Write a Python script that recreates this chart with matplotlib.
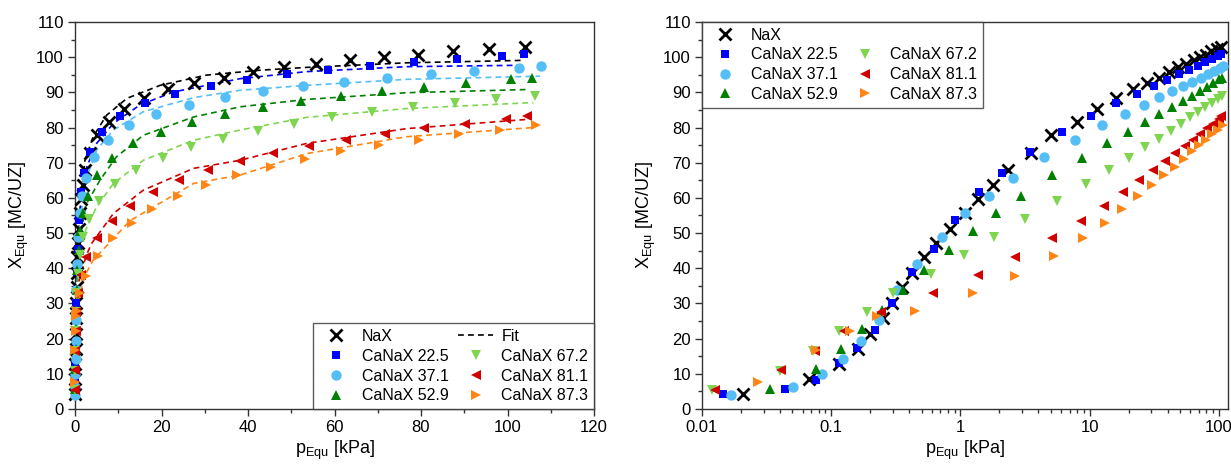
import matplotlib
matplotlib.use('Agg')
import matplotlib.pyplot as plt
from matplotlib.lines import Line2D
from matplotlib.ticker import MultipleLocator, LogLocator, NullFormatter, FixedLocator, FixedFormatter

plt.rcParams['font.family'] = ['Liberation Sans', 'DejaVu Sans']
plt.rcParams['mathtext.fontset'] = 'custom'
plt.rcParams['mathtext.rm'] = 'Liberation Sans'
plt.rcParams['mathtext.it'] = 'Liberation Sans'

# measured isotherms: pressure [kPa] and loading [MC/UZ]
p_nax = [0.0207, 0.0675, 0.115, 0.16, 0.201, 0.25, 0.297, 0.351, 0.425, 0.521, 0.644, 0.836, 1.08,
         1.36, 1.79, 2.34, 3.5, 5.0, 7.9, 11.4, 16.0, 21.5, 27.6, 34.4, 41.1, 48.4, 55.8, 63.5,
         71.4, 79.3, 87.4, 95.7, 104.0]
x_nax = [4.3, 8.5, 12.8, 17.1, 21.3, 25.9, 30.0, 34.6, 38.7, 43.1, 47.1, 51.3, 55.7,
         59.6, 63.8, 68.0, 72.8, 77.8, 81.7, 85.4, 88.3, 90.9, 92.6, 94.2, 95.8, 97.1, 98.1, 99.1,
         100.0, 100.7, 101.7, 102.3, 102.9]

p_225 = [0.0145, 0.044, 0.0757, 0.115, 0.159, 0.217, 0.297, 0.425, 0.623, 0.914, 1.38, 2.10, 3.45,
         6.15, 10.3, 16.1, 23.1, 31.4, 39.7, 49.1, 58.5, 68.3, 78.3, 88.4, 98.7, 103.9]
x_225 = [4.2, 5.6, 8.3, 13.1, 17.3, 22.4, 30.1, 38.8, 45.5, 53.8, 61.6, 67.0, 73.0,
         78.6, 83.2, 86.9, 89.5, 91.8, 93.5, 95.1, 96.4, 97.5, 98.6, 99.5, 100.2, 100.8]

p_371 = [0.0169, 0.0507, 0.0845, 0.124, 0.171, 0.236, 0.32, 0.46, 0.718, 1.08, 1.66, 2.57, 4.4,
         7.7, 12.5, 18.8, 26.4, 34.6, 43.4, 52.7, 62.3, 72.1, 82.3, 92.3, 102.6, 107.7]
x_371 = [4.1, 6.2, 9.9, 14.2, 19.2, 25.2, 33.8, 41.3, 49.0, 55.8, 60.6, 65.6, 71.6,
         76.6, 80.8, 83.9, 86.5, 88.6, 90.3, 91.8, 93.0, 94.2, 95.3, 96.2, 96.9, 97.4]

p_529 = [0.0337, 0.0757, 0.119, 0.174, 0.248, 0.36, 0.525, 0.81, 1.26, 1.87, 2.95, 5.15, 8.65,
         13.5, 19.8, 27.0, 34.6, 43.4, 52.3, 61.5, 71.0, 80.7, 90.5, 100.7, 105.7]
x_529 = [5.8, 11.4, 17.0, 22.7, 28.2, 33.9, 39.6, 45.1, 50.5, 55.7, 60.6, 66.4, 71.3,
         75.5, 78.8, 81.5, 83.9, 85.9, 87.6, 89.1, 90.3, 91.4, 92.7, 93.7, 94.2]

p_672 = [0.012, 0.040, 0.0724, 0.115, 0.189, 0.30, 0.596, 1.07, 1.82, 3.14, 5.6, 9.3, 14.2,
         20.3, 26.9, 34.2, 42.2, 50.7, 59.5, 68.7, 78.1, 87.8, 97.4, 106.4]
x_672 = [5.3, 10.8, 16.5, 22.3, 27.6, 33.0, 38.5, 43.8, 49.0, 53.9, 59.2, 63.9, 68.0,
         71.4, 74.4, 76.8, 79.1, 81.1, 82.9, 84.3, 85.7, 86.9, 88.2, 89.0]

p_811 = [0.0127, 0.041, 0.0748, 0.125, 0.242, 0.615, 1.36, 2.64, 5.07, 8.5, 12.8, 18.0, 24.1,
         30.7, 38.2, 45.8, 54.1, 62.7, 71.7, 80.8, 90.1, 99.7, 104.4]
x_811 = [5.4, 11.0, 16.4, 22.3, 27.5, 33.0, 38.2, 43.1, 48.5, 53.5, 57.8, 61.7, 65.0,
         67.8, 70.4, 72.7, 74.8, 76.5, 78.2, 79.8, 81.0, 82.4, 83.2]

p_873 = [0.0273, 0.0757, 0.139, 0.224, 0.447, 1.26, 2.62, 5.3, 8.8, 13.2, 17.9, 23.7, 30.3,
         37.5, 45.3, 53.2, 61.6, 70.4, 79.5, 88.9, 98.2, 106.7]
x_873 = [7.6, 16.7, 22.3, 26.5, 27.9, 33.1, 37.9, 43.4, 48.6, 53.0, 56.9, 60.6, 63.7,
         66.4, 68.8, 71.0, 73.2, 74.9, 76.6, 78.2, 79.4, 80.6]

# fit curves
pf_nax = [0.02, 0.3, 1.0, 2.3, 4.2, 7.3, 12.0, 19.7, 30.4, 42.8, 53.6, 76.7, 103.7]
xf_nax = [5, 30, 55, 70.7, 77.4, 83.5, 88.3, 92.0, 94.9, 96.3, 97.1, 98.4, 99.1]
pf_225 = [0.02, 0.3, 1.0, 2.7, 5.0, 8.9, 15.0, 22.7, 38.2, 53.6, 76.7, 102.9]
xf_225 = [5, 30, 54, 68.8, 75.5, 81.2, 86.4, 90.1, 93.9, 95.9, 97.3, 97.7]
pf_371 = [0.02, 0.3, 1.0, 2.5, 5.0, 8.9, 15.8, 27.4, 38.2, 53.6, 76.7, 107.5]
xf_371 = [5, 30, 52, 65, 73.6, 79.3, 84.5, 88.5, 90.6, 92.0, 93.7, 94.6]
pf_529 = [0.02, 0.3, 1.0, 2.5, 5.8, 9.6, 15.8, 27.4, 38.2, 53.6, 76.7, 104.4]
xf_529 = [5, 29, 47, 58, 65.1, 71.7, 77.8, 83.0, 85.9, 88.0, 89.9, 90.8]
pf_672 = [0.02, 0.3, 1.0, 2.5, 5.0, 8.9, 15.8, 27.4, 38.2, 53.6, 76.7, 106.0]
xf_672 = [5, 27, 42, 51, 57.5, 64.1, 70.7, 76.4, 79.3, 82.9, 85.4, 87.1]
pf_811 = [0.02, 0.3, 1.0, 2.5, 3.8, 8.9, 15.8, 27.4, 38.2, 53.6, 76.7, 104.4]
xf_811 = [5, 22, 36.6, 43.3, 47, 55.6, 62.2, 68.4, 70.7, 75.5, 79.7, 82.3]
pf_873 = [0.02, 0.3, 1.0, 2.3, 4.2, 12.7, 27.4, 38.2, 53.6, 76.7, 106.0]
xf_873 = [5, 20, 32, 38, 42.3, 53.5, 64.1, 66.5, 72.6, 77.4, 80.0]

labels = ['NaX', 'CaNaX 22.5', 'CaNaX 37.1', 'CaNaX 52.9', 'CaNaX 67.2', 'CaNaX 81.1', 'CaNaX 87.3']
colors = ['black', '#0000FF', '#55BEF7', '#008000', '#7FD550', '#D00000', '#FF8516']
markers = ['x', 's', 'o', '^', 'v', '<', '>']
sizes = [8, 6, 7.5, 7.5, 7.5, 7.5, 7.5]
p_all = [p_nax, p_225, p_371, p_529, p_672, p_811, p_873]
x_all = [x_nax, x_225, x_371, x_529, x_672, x_811, x_873]
pf_all = [pf_nax, pf_225, pf_371, pf_529, pf_672, pf_811, pf_873]
xf_all = [xf_nax, xf_225, xf_371, xf_529, xf_672, xf_811, xf_873]

fig = plt.figure(figsize=(12.31, 4.69), dpi=100)
ax1 = fig.add_axes([75 / 1231, 60 / 469, 519 / 1231, 387 / 469])
ax2 = fig.add_axes([702 / 1231, 60 / 469, 526 / 1231, 387 / 469])


def style(ax):
    for s in ['top', 'right', 'left', 'bottom']:
        ax.spines[s].set_linewidth(1.0)
        ax.spines[s].set_color('#333333')
    ax.tick_params(which='both', direction='out', top=False, right=False, labelsize=12, color='#333333')
    ax.tick_params(which='major', length=5, width=1.0, pad=3)
    ax.tick_params(which='minor', length=3, width=1.0)
    ax.set_ylim(0, 110)
    ax.yaxis.set_major_locator(MultipleLocator(10))
    ax.yaxis.set_minor_locator(MultipleLocator(5))
    ax.set_ylabel(r'X$_{\mathrm{Equ}}$ [MC/UZ]', fontsize=13, labelpad=4)
    ax.set_xlabel(r'p$_{\mathrm{Equ}}$ [kPa]', fontsize=13, labelpad=3)


handles = []
for i in range(len(labels)):
    ax1.plot(pf_all[i], xf_all[i], ls=(0, (3.5, 2.5)), lw=1.2, color=colors[i], zorder=2)
for i in range(len(labels)):
    kw = dict(mew=2.0) if i == 0 else dict(mew=0)
    h, = ax1.plot(p_all[i], x_all[i], ls='none', marker=markers[i], ms=sizes[i], color=colors[i],
                  clip_on=False, zorder=3, **kw)
    ax2.plot(p_all[i], x_all[i], ls='none', marker=markers[i], ms=sizes[i], color=colors[i],
             clip_on=False, zorder=3, **kw)
    handles.append(h)

style(ax1)
ax1.set_xlim(0, 120)
ax1.xaxis.set_major_locator(MultipleLocator(20))
ax1.xaxis.set_minor_locator(MultipleLocator(10))

style(ax2)
ax2.set_xscale('log')
ax2.set_xlim(0.01, 117.4)
ax2.xaxis.set_major_locator(FixedLocator([0.01, 0.1, 1, 10, 100]))
ax2.xaxis.set_major_formatter(FixedFormatter(['0.01', '0.1', '1', '10', '100']))
ax2.xaxis.set_minor_locator(LogLocator(base=10, subs=range(2, 10)))
ax2.xaxis.set_minor_formatter(NullFormatter())

fit_h = Line2D([], [], ls=(0, (3.5, 2.5)), lw=1.2, color='black')
blank = Line2D([], [], ls='none')

leg_kw = dict(ncol=2, fontsize=11.5, frameon=True, fancybox=False, borderaxespad=0,
              handlelength=2.2, handletextpad=0.5, columnspacing=0.6, labelspacing=0.3,
              borderpad=0.35)
lg1 = ax1.legend(handles[:4] + [fit_h] + handles[4:], labels[:4] + ['Fit'] + labels[4:],
                 loc='lower right', **leg_kw)
lg2 = ax2.legend(handles[:4] + [blank] + handles[4:], labels[:4] + [''] + labels[4:],
                 loc='upper left', **leg_kw)
for lg in (lg1, lg2):
    lg.get_frame().set_edgecolor('#333333')
    lg.get_frame().set_linewidth(1.0)

fig.savefig('out.png', dpi=100)
